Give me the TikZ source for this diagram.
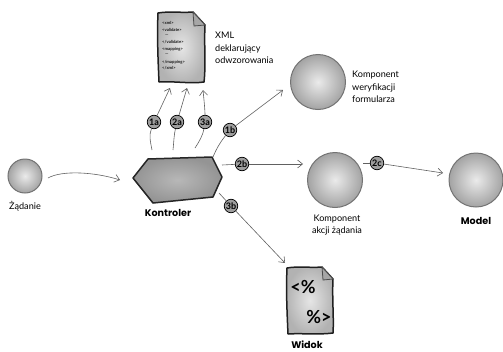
\documentclass[tikz,border=0pt]{standalone}
\usepackage{fontspec}
\setmainfont{Lato}
\newfontfamily\hfont{Poppins}
\usetikzlibrary{arrows.meta,shapes.geometric}
\definecolor{ln}{gray}{0.38}
\tikzset{
 x=1pt,y=-1pt,
 conn/.style={draw=ln,line width=0.6pt,-{Straight Barb[length=5pt,width=8pt]}},
 plain/.style={draw=ln,line width=0.6pt},
 ball/.style={circle,minimum size=#1,inner sep=0pt,draw=black!55,line width=1pt,inner color=black!8,outer color=black!36},
 badge/.style={circle,minimum size=13.5pt,inner sep=0pt,draw=black,line width=0.7pt,fill=black!38,font=\fontsize{9}{9}\selectfont\bfseries},
 lab/.style={font=\fontsize{9.1}{12.6}\selectfont,inner sep=0pt,align=left},
 title/.style={font=\fontsize{9.6}{10}\selectfont\hfont\bfseries,inner sep=0pt},
 sheet/.style={draw=black!88,line width=1.5pt,line join=round,inner color=black!10,outer color=black!30},
 xmlt/.style={font=\fontsize{4.2}{4.6}\selectfont\bfseries,inner sep=0pt,anchor=west,text=black!90},
 fold/.style={draw=black!70,line width=0.8pt,fill=black!35,line join=round},
 pct/.style={font=\fontsize{18}{19}\selectfont\bfseries,inner sep=0pt},
}
\begin{document}
\begin{tikzpicture}
\useasboundingbox (0,0) rectangle (503,351);
% document 1
\path[sheet] (158,13) .. controls (170,11) and (180,13) .. (193,12) -- (205,25) .. controls (204,45) and (206,65) .. (204,82) .. controls (190,84) and (175,81) .. (159,82) .. controls (158,60) and (157,35) .. (158,13) -- cycle;
\draw[fold] (193,12) -- (205,25) -- (194,26) -- cycle;
\node[xmlt] (x1) at (162,23) {<xml>};
\node[xmlt] (x2) at (162,30) {<validate>};
\node[xmlt] (x3) at (165,36) {---};
\node[xmlt] (x4) at (162,42) {</validate>};
\node[xmlt] (x5) at (162,49) {<mapping>};
\node[xmlt] (x6) at (165,55) {---};
\node[xmlt] (x7) at (162,62) {</mapping>};
\node[xmlt] (x8) at (162,68) {</xml>};
% document 2
\path[sheet] (287,268) .. controls (298,266) and (310,268) .. (322,267) -- (333,279) .. controls (332,298) and (334,318) .. (333,333) .. controls (318,335) and (302,333) .. (288,334) .. controls (287,312) and (286,290) .. (287,268) -- cycle;
\draw[fold] (322,267) -- (333,279) -- (323,280) -- cycle;
\node[pct] (p1) at (303,287) {<\%};
\node[pct] (p2) at (319,317) {\%>};
% shapes
\node[ball=34pt] (req) at (25,176) {};
\node[ball=55pt] (val) at (318,82) {};
\node[ball=55pt] (act) at (335,180) {};
\node[ball=54pt] (mod) at (476,180) {};
\path[draw=black!85,line width=1.5pt,line join=round,inner color=black!28,outer color=black!42]
 (133,178) -- (148,159) -- (212,157) -- (222,177) -- (213,197) -- (153,203) -- cycle;
% badges
\node[badge] (b1a) at (154,122) {1a};
\node[badge] (b2a) at (177,122) {2a};
\node[badge] (b3a) at (205,122) {3a};
\node[badge] (b1b) at (230,130) {1b};
\node[badge] (b2b) at (242,164) {2b};
\node[badge] (b3b) at (231,206) {3b};
\node[badge] (b2c) at (377,163) {2c};
% free ends
\coordinate (a0) at (48,178);
\coordinate (a1) at (120,180);
\coordinate (s1a) at (152,150);
\coordinate (e1a) at (170,88);
\coordinate (s2a) at (173,150);
\coordinate (e2a) at (187,88);
\coordinate (s3a) at (195,148);
\coordinate (e3a) at (203,90);
\coordinate (s1b) at (213,157);
\coordinate (e1b) at (283,90);
\coordinate (s2b) at (222,165);
\coordinate (e2b) at (303,164);
\coordinate (s2c) at (363,163);
\coordinate (e2c) at (443,173);
\coordinate (s3b) at (219,193);
\coordinate (e3b) at (285,263);
% connectors
\draw[conn] (a0) .. controls (62,170) and (95,172) .. (a1);
\draw[plain] (s1a) .. controls (150,140) and (149,135) .. (b1a);
\draw[conn] (b1a) -- (e1a);
\draw[plain] (s2a) .. controls (174,140) and (174,135) .. (b2a);
\draw[conn] (b2a) -- (e2a);
\draw[plain] (s3a) .. controls (199,142) and (203,135) .. (b3a);
\draw[conn] (b3a) .. controls (205,110) and (204,100) .. (e3a);
\draw[plain] (s1b) .. controls (217,147) and (222,140) .. (b1b);
\draw[conn] (b1b) -- (e1b);
\draw[plain] (s2b) -- (b2b);
\draw[conn] (b2b) -- (e2b);
\draw[plain] (s2c) -- (b2c);
\draw[conn] (b2c) -- (e2c);
\draw[plain] (s3b) -- (b3b);
\draw[conn] (b3b) -- (e3b);
% labels
\node[lab,anchor=north] (lreq) at (25,201) {Żądanie};
\node[lab,anchor=west] (lxml) at (215,48) {XML\\deklarujący\\odwzorowania};
\node[lab,anchor=west] (lval) at (352,87) {Komponent\\weryfikacji\\formularza};
\node[lab,anchor=north,align=center] (lact) at (337,214.5) {Komponent\\akcji żądania};
\node[title] (lhex) at (168,213) {Kontroler};
\node[title] (lmod) at (476,221) {Model};
\node[title] (lwid) at (307,345) {Widok};
\end{tikzpicture}
\end{document}
